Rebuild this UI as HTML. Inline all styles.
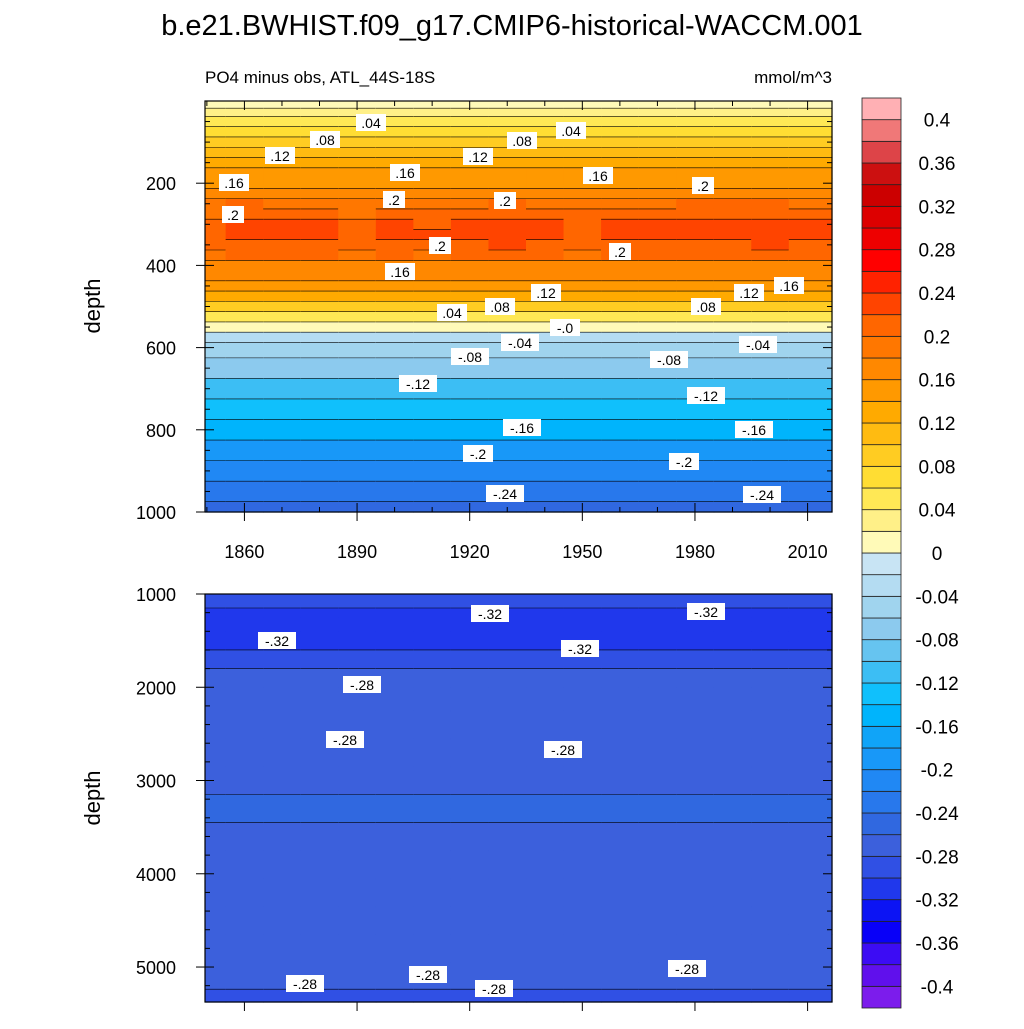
<!DOCTYPE html>
<html><head><meta charset="utf-8"><style>
body{margin:0;background:#fff;}
svg text{font-family:"Liberation Sans",sans-serif;}
</style></head><body>
<svg id="s" width="1024" height="1024" xmlns="http://www.w3.org/2000/svg">
<text x="512" y="35" font-size="29" text-anchor="middle">b.e21.BWHIST.f09_g17.CMIP6-historical-WACCM.001</text>
<text x="205" y="83" font-size="17">PO4 minus obs, ATL_44S-18S</text>
<text x="832" y="83" font-size="17" text-anchor="end">mmol/m^3</text>
<text transform="translate(100,306) rotate(-90)" font-size="22" text-anchor="middle">depth</text>
<text transform="translate(100,798) rotate(-90)" font-size="22" text-anchor="middle">depth</text>
<g id="topg"></g><g id="botg"></g><g id="cb"></g><g id="lab"></g>
</svg>
<script>
const levels=[];for(let i=-20;i<=20;i++)levels.push(+(i*0.02).toFixed(2));
const colors=["#7c1cec","#6010ec","#3c0cf4","#0800f8","#0c14f4","#2038ec","#3050e4","#3c60dc","#3068e0","#2878ec","#2088f4","#1898f8","#10a4f8","#00b4fc","#10c0fc","#3cbef4","#66c4f0","#8ccaee","#a0d4ee","#b4dcf2","#c8e4f4",
"#fffab8","#fff088","#ffe855","#ffdd33","#ffcc22","#ffbb11","#ffaa00","#ff9900","#ff8800","#ff7700","#ff6600","#ff4400","#ff2200","#ff0000","#ee0000","#dd0000","#cc0000","#cc1010","#dd4448","#f07878","#ffb0b4"];
const years=[1850,1860,1870,1880,1890,1900,1910,1920,1930,1940,1950,1960,1970,1980,1990,2000,2010];
const topDepths=[0,10,25,50,75,100,125,150,175,200,225,250,275,300,325,350,375,400,425,450,475,500,525,550,575,600,650,700,750,800,850,900,950,1000];
const topValues=[0.005,0.012,0.022,0.04,0.06,0.08,0.1,0.12,0.14,0.155,0.17,0.185,0.197,0.21,0.212,0.2,0.19,0.175,0.16,0.14,0.12,0.08,0.04,0.0,-0.025,-0.045,-0.075,-0.115,-0.14,-0.16,-0.185,-0.205,-0.235,-0.25];
const coreAnomaly=[0,0.015,0.01,0.012,0,0.012,0.008,0.012,0.02,0.01,0.005,0.01,0.012,0.015,0.018,0.02,0.01];
const botDepths=[1000,1100,1200,1300,1500,1700,1900,2100,2400,2700,3000,3300,3600,3900,4200,4500,4800,5100,5375];
const botValues=[-0.285,-0.3,-0.31,-0.31,-0.305,-0.295,-0.28,-0.275,-0.275,-0.272,-0.262,-0.258,-0.262,-0.272,-0.275,-0.275,-0.275,-0.28,-0.285];
const xTicks=[1860,1890,1920,1950,1980,2010];
const topYTicks=[200,400,600,800,1000];
const botYTicks=[1000,2000,3000,4000,5000];
const cbLabels=["0.4","0.36","0.32","0.28","0.24","0.2","0.16","0.12","0.08","0.04","0","-0.04","-0.08","-0.12","-0.16","-0.2","-0.24","-0.28","-0.32","-0.36","-0.4"];
const NS="http://www.w3.org/2000/svg";
function mk(t,a,p){const e=document.createElementNS(NS,t);for(const k in a)e.setAttribute(k,a[k]);p.appendChild(e);return e;}
function col(v){let i=0;while(i<levels.length&&v>=levels[i])i++;return colors[i];}
const X0=205,X1=832,Y0=1849.5,Y1=2016.5;
const xs=y=>X0+(y-Y0)/(Y1-Y0)*(X1-X0);
function panel(g,depths,vals,anom,yT,yB,d0,d1,name){
  const ys=d=>yT+(d-d0)/(d1-d0)*(yB-yT);
  for(let j=0;j<years.length;j++){
    const xa=j==0?X0:xs((years[j-1]+years[j])/2), xb=j==years.length-1?X1:xs((years[j]+years[j+1])/2);
    let prevC=null;
    for(let i=0;i<depths.length;i++){
      const ya=i==0?yT:ys((depths[i-1]+depths[i])/2), yb=i==depths.length-1?yB:ys((depths[i]+depths[i+1])/2);
      let v=vals[i]; if(anom&&depths[i]>=250&&depths[i]<=375)v+=anom[j];
      const c=col(v);
      const r=mk('rect',{x:xa,y:ya,width:xb-xa+0.6,height:yb-ya+0.6,fill:c},g);
      
      
      if(prevC&&prevC!==c){const l=mk('line',{x1:xa,x2:xb,y1:ya,y2:ya,stroke:'#000','stroke-width':0.6},g);}
      prevC=c;
    }
  }
  const fr=mk('rect',{x:X0,y:yT,width:X1-X0,height:yB-yT,fill:'none',stroke:'#000','stroke-width':1.2},g);
  
  return ys;
}
const gTop=document.getElementById('topg'),gBot=document.getElementById('botg');
const ysT=panel(gTop,topDepths,topValues,coreAnomaly,101,512,0,1000,'top-panel');
const ysB=panel(gBot,botDepths,botValues,null,594,1002,1000,5375,'bottom-panel');
for(let y=1850;y<=2015;y+=10){
  const maj=xTicks.includes(y);const L=maj?9:5;
  [[101,1],[512,-1],[594,1],[1002,-1]].forEach(([yy,s])=>{mk('line',{x1:xs(y),x2:xs(y),y1:yy,y2:yy+s*L,stroke:'#000'},gTop);});
  if(maj){[512,1002].forEach(yy=>mk('line',{x1:xs(y),x2:xs(y),y1:yy,y2:yy+9,stroke:'#000'},gTop));}
}
xTicks.forEach(y=>{const t=mk('text',{x:xs(y),y:558,'font-size':18,'text-anchor':'middle'},gTop);t.textContent=y;});
for(let d=50;d<=1000;d+=50){const maj=topYTicks.includes(d);const L=maj?9:5;mk('line',{x1:X0,x2:X0+L,y1:ysT(d),y2:ysT(d),stroke:'#000'},gTop);mk('line',{x1:X1,x2:X1-L,y1:ysT(d),y2:ysT(d),stroke:'#000'},gTop);if(maj)mk('line',{x1:X0,x2:X0-9,y1:ysT(d),y2:ysT(d),stroke:'#000'},gTop);}
topYTicks.forEach(d=>{const t=mk('text',{x:176,y:ysT(d)+7,'font-size':18,'text-anchor':'end'},gTop);t.textContent=d;});
for(let d=1000;d<=5300;d+=200){const maj=botYTicks.includes(d);const L=maj?9:5;mk('line',{x1:X0,x2:X0+L,y1:ysB(d),y2:ysB(d),stroke:'#000'},gBot);mk('line',{x1:X1,x2:X1-L,y1:ysB(d),y2:ysB(d),stroke:'#000'},gBot);if(maj)mk('line',{x1:X0,x2:X0-9,y1:ysB(d),y2:ysB(d),stroke:'#000'},gBot);}
botYTicks.forEach(d=>{const t=mk('text',{x:176,y:ysB(d)+7,'font-size':18,'text-anchor':'end'},gBot);t.textContent=d;});
const cb=document.getElementById('cb');const bh=(1008-98)/colors.length;
for(let i=0;i<colors.length;i++){const r=mk('rect',{x:862,y:98+(colors.length-1-i)*bh,width:39,height:bh,fill:colors[i],stroke:'#222','stroke-width':0.8},cb);}
cbLabels.forEach((s,k)=>{const y=98+bh*(1+2*k);const t=mk('text',{x:937,y:y+7,'font-size':19,'text-anchor':'middle'},cb);t.textContent=s;});
const lab=document.getElementById('lab');
const LB=[[371,123,".04"],[325,140,".08"],[280,156,".12"],[234,183,".16"],[233,215,".2"],[394,200,".2"],[405,173,".16"],[440,246,".2"],[400,272,".16"],[478,157,".12"],[522,141,".08"],[571,131,".04"],[598,176,".16"],[505,201,".2"],[703,186,".2"],[620,252,".2"],[546,293,".12"],[500,307,".08"],[452,313,".04"],[565,328,"-.0"],[520,343,"-.04"],[470,357,"-.08"],[418,384,"-.12"],[522,428,"-.16"],[478,454,"-.2"],[505,494,"-.24"],[706,307,".08"],[749,293,".12"],[789,286,".16"],[758,345,"-.04"],[669,360,"-.08"],[706,396,"-.12"],[754,430,"-.16"],[684,462,"-.2"],[762,495,"-.24"],
[490,614,"-.32"],[706,612,"-.32"],[277,641,"-.32"],[580,649,"-.32"],[362,685,"-.28"],[345,740,"-.28"],[563,750,"-.28"],[305,984,"-.28"],[428,975,"-.28"],[494,989,"-.28"],[687,969,"-.28"]];
LB.forEach(([x,y,s])=>{const g=mk('g',{},lab);const w=s.length*8+6;mk('rect',{x:x-w/2,y:y-9,width:w,height:17,fill:'#fff'},g);const t=mk('text',{x:x,y:y+5,'font-size':14,'text-anchor':'middle'},g);t.textContent=s;});
</script>
</body></html>
